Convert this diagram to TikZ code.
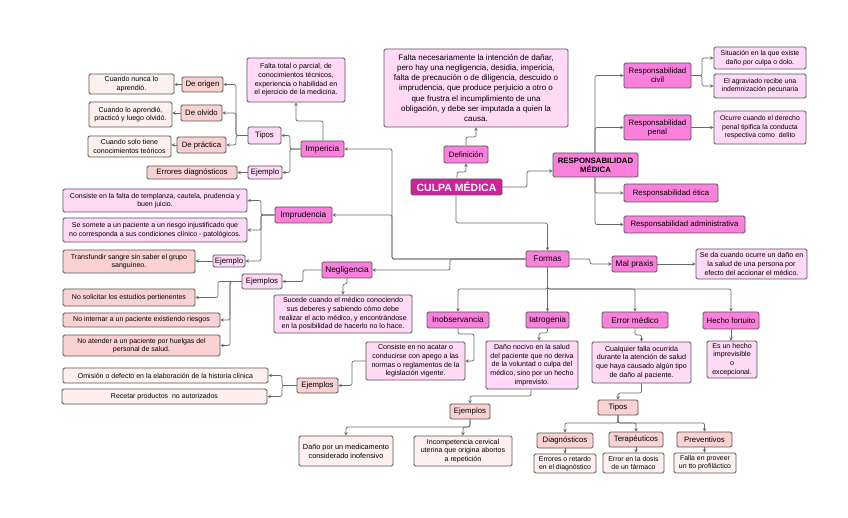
\documentclass[tikz,border=0pt]{standalone}
\usepackage{fontspec}
\setmainfont{Liberation Sans}
\usetikzlibrary{arrows.meta}
\definecolor{magc}{RGB}{206,35,155}
\definecolor{midc}{RGB}{250,128,220}
\definecolor{lpc}{RGB}{255,217,246}
\definecolor{salc}{RGB}{250,210,210}
\definecolor{vlc}{RGB}{255,240,240}
\definecolor{bordc}{RGB}{85,85,85}
\definecolor{linec}{RGB}{105,105,105}
\newcommand\bx[7]{\node[#1,minimum width={(#5)-(#3)},minimum height={(#6)-(#4)}] (#2) at ({((#3)+(#5))/2},{((#4)+(#6))/2}) {#7};}
\tikzset{
 bxbase/.style={draw=bordc,line width=0.75pt,rounded corners=1.5pt,align=center,inner sep=1pt,text=black},
 magbox/.style={bxbase,fill=magc,text=white,font=\bfseries\fontsize{10.5}{12}\selectfont},
 midbox/.style={bxbase,fill=midc,font=\fontsize{8.3}{9.5}\selectfont},
 lpbox/.style={bxbase,fill=lpc,font=\fontsize{7.1}{8.7}\selectfont},
 lplab/.style={bxbase,fill=lpc,font=\fontsize{7.8}{9}\selectfont},
 salbox/.style={bxbase,fill=salc,font=\fontsize{7.1}{8.7}\selectfont},
 sallab/.style={bxbase,fill=salc,font=\fontsize{7.8}{9}\selectfont},
 vlbox/.style={bxbase,fill=vlc,font=\fontsize{7.1}{8.7}\selectfont},
 arr/.style={draw=linec,line width=0.7pt,rounded corners=2pt,-{Stealth[length=3.5pt,width=3.5pt]}},
}
\begin{document}
\begin{tikzpicture}[x=1pt,y=-1pt]
\fill[white] (0,0) rectangle (848,518);
\useasboundingbox (0,0) rectangle (848,518);
% centre
\bx{lpbox,font=\fontsize{8}{10.3}\selectfont}{def}{384}{49}{568}{127}{Falta necesariamente la intención de dañar,\\pero hay una negligencia, desidia, impericia,\\falta de precaución o de diligencia, descuido o\\imprudencia, que produce perjuicio a otro o\\que frustra el incumplimiento de una\\obligación, y debe ser imputada a quien la\\causa.}
\bx{midbox,font=\fontsize{7.8}{9}\selectfont}{defi}{444}{146}{488}{163}{Definición}
\bx{magbox}{culpa}{411}{179}{502}{195}{CULPA MÉDICA}
\bx{midbox,font=\bfseries\fontsize{7.8}{9}\selectfont}{resp}{553}{153}{638}{177}{RESPONSABILIDAD\\MÉDICA}
\bx{midbox,font=\fontsize{7.8}{9}\selectfont}{rc}{624}{63}{691}{88}{Responsabilidad\\civil}
\bx{midbox,font=\fontsize{7.8}{9}\selectfont}{rp}{624}{115}{691}{140}{Responsabilidad\\penal}
\bx{midbox,font=\fontsize{7.8}{9}\selectfont}{re}{624}{184}{718}{202}{Responsabilidad ética}
\bx{midbox,font=\fontsize{7.8}{9}\selectfont}{ra}{624}{216}{745}{233}{Responsabilidad administrativa}
\bx{lpbox,font=\fontsize{6.9}{8.4}\selectfont}{sit}{714}{47}{806}{69}{Situación en la que existe\\daño por culpa o dolo.}
\bx{lpbox,font=\fontsize{6.9}{8.4}\selectfont}{agr}{714}{74}{806}{98}{El agraviado recibe una\\indemnización pecunaria}
\bx{lpbox,font=\fontsize{6.9}{8.4}\selectfont}{ocu}{714}{111}{806}{144}{Ocurre cuando el derecho\\penal tipifica la conducta\\respectiva como\ \ delito}
% impericia
\bx{lpbox}{impdef}{247}{58}{345}{102}{Falta total o parcial, de\\conocimientos técnicos,\\experiencia o habilidad en\\el ejercicio de la medicina.}
\bx{sallab}{orig}{182}{77}{223}{92}{De origen}
\bx{sallab}{olv}{181}{105}{222}{121}{De olvido}
\bx{sallab}{prac}{177}{137}{226}{153}{De práctica}
\bx{vlbox}{nunca}{89}{74}{174}{94}{Cuando nunca lo\\aprendió.}
\bx{vlbox}{olvt}{89}{102}{172}{127}{Cuando lo aprendió,\\practicó y luego olvidó.}
\bx{vlbox}{teor}{88}{136}{171}{157}{Cuando solo tiene\\conocimientos teóricos}
\bx{lplab}{tipos1}{248}{127}{281}{144}{Tipos}
\bx{midbox}{impe}{301}{141}{344}{157}{Impericia}
\bx{lplab}{ej1}{248}{166}{282}{179}{Ejemplo}
\bx{sallab}{errd}{147}{166}{237}{179}{Errores diagnósticos}
% imprudencia
\bx{midbox}{impru}{275}{207}{332}{223}{Imprudencia}
\bx{lpbox,font=\fontsize{7}{8.5}\selectfont}{temp}{63}{189}{247}{212}{Consiste en la falta de templanza, cautela, prudencia y\\buen juicio.}
\bx{lpbox,font=\fontsize{7}{8.5}\selectfont}{som}{63}{218}{247}{242}{Se somete a un paciente a un riesgo injustificado que\\no corresponda a sus condiciones clínico - patológicos.}
\bx{lplab}{ej2}{213}{255}{245}{267}{Ejemplo}
\bx{salbox,font=\fontsize{7}{8.5}\selectfont}{trans}{63}{250}{195}{273}{Transfundir sangre sin saber el grupo\\sanguíneo.}
% negligencia
\bx{midbox}{neg}{322}{262}{372}{278}{Negligencia}
\bx{lplab}{ej3}{242}{274}{282}{289}{Ejemplos}
\bx{lpbox}{suc}{274}{295}{412}{333}{Sucede cuando el médico conociendo\\sus deberes y sabiendo cómo debe\\realizar el acto médico, y encontrándose\\en la posibilidad de hacerlo no lo hace.}
\bx{salbox,font=\fontsize{7}{8.5}\selectfont}{nosol}{63}{289}{195}{306}{No solicitar los estudios pertienentes}
\bx{salbox,font=\fontsize{7}{8.5}\selectfont}{noint}{63}{313}{220}{327}{No internar a un paciente existiendo riesgos}
\bx{salbox,font=\fontsize{7}{8.5}\selectfont}{noat}{63}{335}{220}{356}{No atender a un paciente por huelgas del\\personal de salud.}
% formas
\bx{midbox}{formas}{526}{251}{569}{267}{Formas}
\bx{midbox}{mal}{612}{256}{657}{272}{Mal praxis}
\bx{lpbox}{maltxt}{696}{249}{807}{279}{Se da cuando ocurre un daño en\\la salud de una persona por\\efecto del accionar el médico.}
\bx{midbox}{inob}{427}{312}{489}{328}{Inobservancia}
\bx{midbox}{iat}{526}{312}{569}{328}{Iatrogenia}
\bx{midbox}{errm}{602}{312}{668}{328}{Error médico}
\bx{midbox,font=\fontsize{7.8}{9}\selectfont}{hecho}{703}{312}{759}{329}{Hecho fortuito}
\bx{lpbox}{cons}{366}{342}{465}{380}{Consiste en no acatar o\\conducirse con apego a las\\normas o reglamentos de la\\legislación vigente.}
\bx{sallab}{ej4}{297}{378}{338}{393}{Ejemplos}
\bx{vlbox,font=\fontsize{7}{8.5}\selectfont}{omi}{63}{368}{268}{383}{Omisión o defecto en la elaboración de la historia clínica}
\bx{vlbox,font=\fontsize{7}{8.5}\selectfont}{rec}{62}{389}{267}{404}{Recetar productos\ \ no autorizados}
\bx{lpbox}{dano}{486}{341}{578}{389}{Daño nocivo en la salud\\del paciente que no deriva\\de la voluntad o culpa del\\médico, sino por un hecho\\imprevisto.}
\bx{sallab}{ej5}{450}{404}{490}{419}{Ejemplos}
\bx{vlbox,font=\fontsize{7.3}{8.8}\selectfont}{med}{299}{436}{393}{466}{Daño por un medicamento\\considerado inofensivo}
\bx{vlbox}{inc}{414}{436}{512}{466}{Incompetencia cervical\\uterina que origina abortos\\a repetición}
\bx{lpbox}{cual}{592}{342}{691}{383}{Cualquier falla ocurrida\\durante la atención de salud\\que haya causado algún tipo\\de daño al paciente.}
\bx{sallab}{tipos2}{598}{400}{638}{415}{Tipos}
\bx{sallab}{diag}{537}{433}{593}{448}{Diagnósticos}
\bx{sallab}{ter}{609}{432}{663}{447}{Terapéuticos}
\bx{sallab}{prev}{677}{432}{732}{447}{Preventivos}
\bx{vlbox,font=\fontsize{6.9}{8.4}\selectfont}{erd}{534}{454}{596}{473}{Errores o retardo\\en el diagnóstico}
\bx{vlbox,font=\fontsize{6.9}{8.4}\selectfont}{erdo}{603}{453}{664}{473}{Error en la dosis\\de un fármaco}
\bx{vlbox,font=\fontsize{6.9}{8.4}\selectfont}{falla}{674}{453}{736}{473}{Falla en proveer\\un tto profiláctico}
\bx{lpbox}{es}{707}{341}{757}{378}{Es un hecho\\imprevisible\\o\\excepcional.}
% connectors
\draw[arr] (culpa.north -| 457,0) -- (457,172) -| (defi.south);
\draw[arr] (defi.north) -- (466,137) -| (def.south);
\draw[arr] (culpa.east) -- (527,187) -- (527,171) -- (resp.west |- 0,171);
\draw[arr] (resp.north -| 595,0) |- (rc.west);
\draw[arr] (resp.north -| 595,0) |- (rp.west);
\draw[arr] (resp.south -| 595,0) |- (re.west);
\draw[arr] (resp.south -| 595,0) |- (ra.west);
\draw[arr] (rc.east) -- (702,75.5) |- (sit.west);
\draw[arr] (rc.east) -- (702,75.5) |- (agr.west);
\draw[arr] (rp.east) -- (ocu.west);
\draw[arr] (culpa.south -| 456,0) -- (456,223) -| (formas.north);
\draw[arr] (formas.west) -- (392,259) |- (impe.east);
\draw[arr] (formas.west) -- (392,259) |- (impru.east);
\draw[arr] (formas.west) -- (450,259) |- (neg.east);
\draw[arr] (formas.east) -- (590,259) |- (mal.west);
\draw[arr] (mal.east) -- (maltxt.west);
\draw[arr] (formas.south) -- (547.5,289) -| (inob.north);
\draw[arr] (formas.south) -- (iat.north);
\draw[arr] (formas.south) -- (547.5,289) -| (errm.north);
\draw[arr] (formas.south) -- (547.5,289) -| (hecho.north);
% impericia
\draw[arr] (impe.north -| 323,0) -- (323,121) -| (impdef.south);
\draw[arr] (impe.west) -- (290,149) |- (tipos1.east);
\draw[arr] (impe.west) -- (290,149) |- (ej1.east);
\draw[arr] (tipos1.west) -- (236,135.5) |- (orig.east);
\draw[arr] (tipos1.west) -- (236,135.5) |- (olv.east);
\draw[arr] (tipos1.west) -- (236,135.5) |- (prac.east);
\draw[arr] (orig.west) -- (orig.west -| nunca.east);
\draw[arr] (olv.west) -- (olv.west -| olvt.east);
\draw[arr] (prac.west) -- (prac.west -| teor.east);
\draw[arr] (ej1.west) -- (ej1.west -| errd.east);
% imprudencia
\draw[arr] (impru.west) -- (261,215) |- (temp.east);
\draw[arr] (impru.west) -- (261,215) |- (som.east);
\draw[arr] (impru.west) -- (261,215) |- (ej2.east);
\draw[arr] (ej2.west) -- (ej2.west -| trans.east);
% negligencia
\draw[arr] (neg.west) -- (303,270) |- (ej3.east);
\draw[arr] (neg.south) -- (347,284) -| (suc.north);
\draw[arr] (ej3.west) -- (218,281.5) |- (nosol.east);
\draw[arr] (ej3.west) -- (230,281.5) |- (noint.east);
\draw[arr] (ej3.west) -- (230,281.5) |- (noat.east);
% inobservancia
\draw[arr] (inob.south) -- (458,334) -- (474,334) |- (cons.east);
\draw[arr] (cons.west) -- (352,361) |- (ej4.east);
\draw[arr] (ej4.west) -- (282,385.5) |- (omi.east);
\draw[arr] (ej4.west) -- (282,385.5) |- (rec.east);
% iatrogenia
\draw[arr] (iat.south) -- (547.5,333) -- (539,333) -- (dano.north -| 539,0);
\draw[arr] (dano.south -| 531,0) -- (531,396) -| (ej5.north);
\draw[arr] (ej5.south) -- (470,427) -| (med.north);
\draw[arr] (ej5.south) -- (470,427) -| (inc.north);
% error medico
\draw[arr] (errm.south) -- (635,335) -| (cual.north);
\draw[arr] (cual.south) -- (641.5,393) -| (tipos2.north);
\draw[arr] (tipos2.south) -- (618,423) -| (diag.north);
\draw[arr] (tipos2.south) -- (618,423) -| (ter.north);
\draw[arr] (tipos2.south) -- (618,423) -| (prev.north);
\draw[arr] (diag.south) -- (diag.south |- erd.north);
\draw[arr] (ter.south) -- (ter.south |- erdo.north);
\draw[arr] (prev.south) -- (prev.south |- falla.north);
\draw[arr] (hecho.south) -- (hecho.south |- es.north);
\end{tikzpicture}
\end{document}
